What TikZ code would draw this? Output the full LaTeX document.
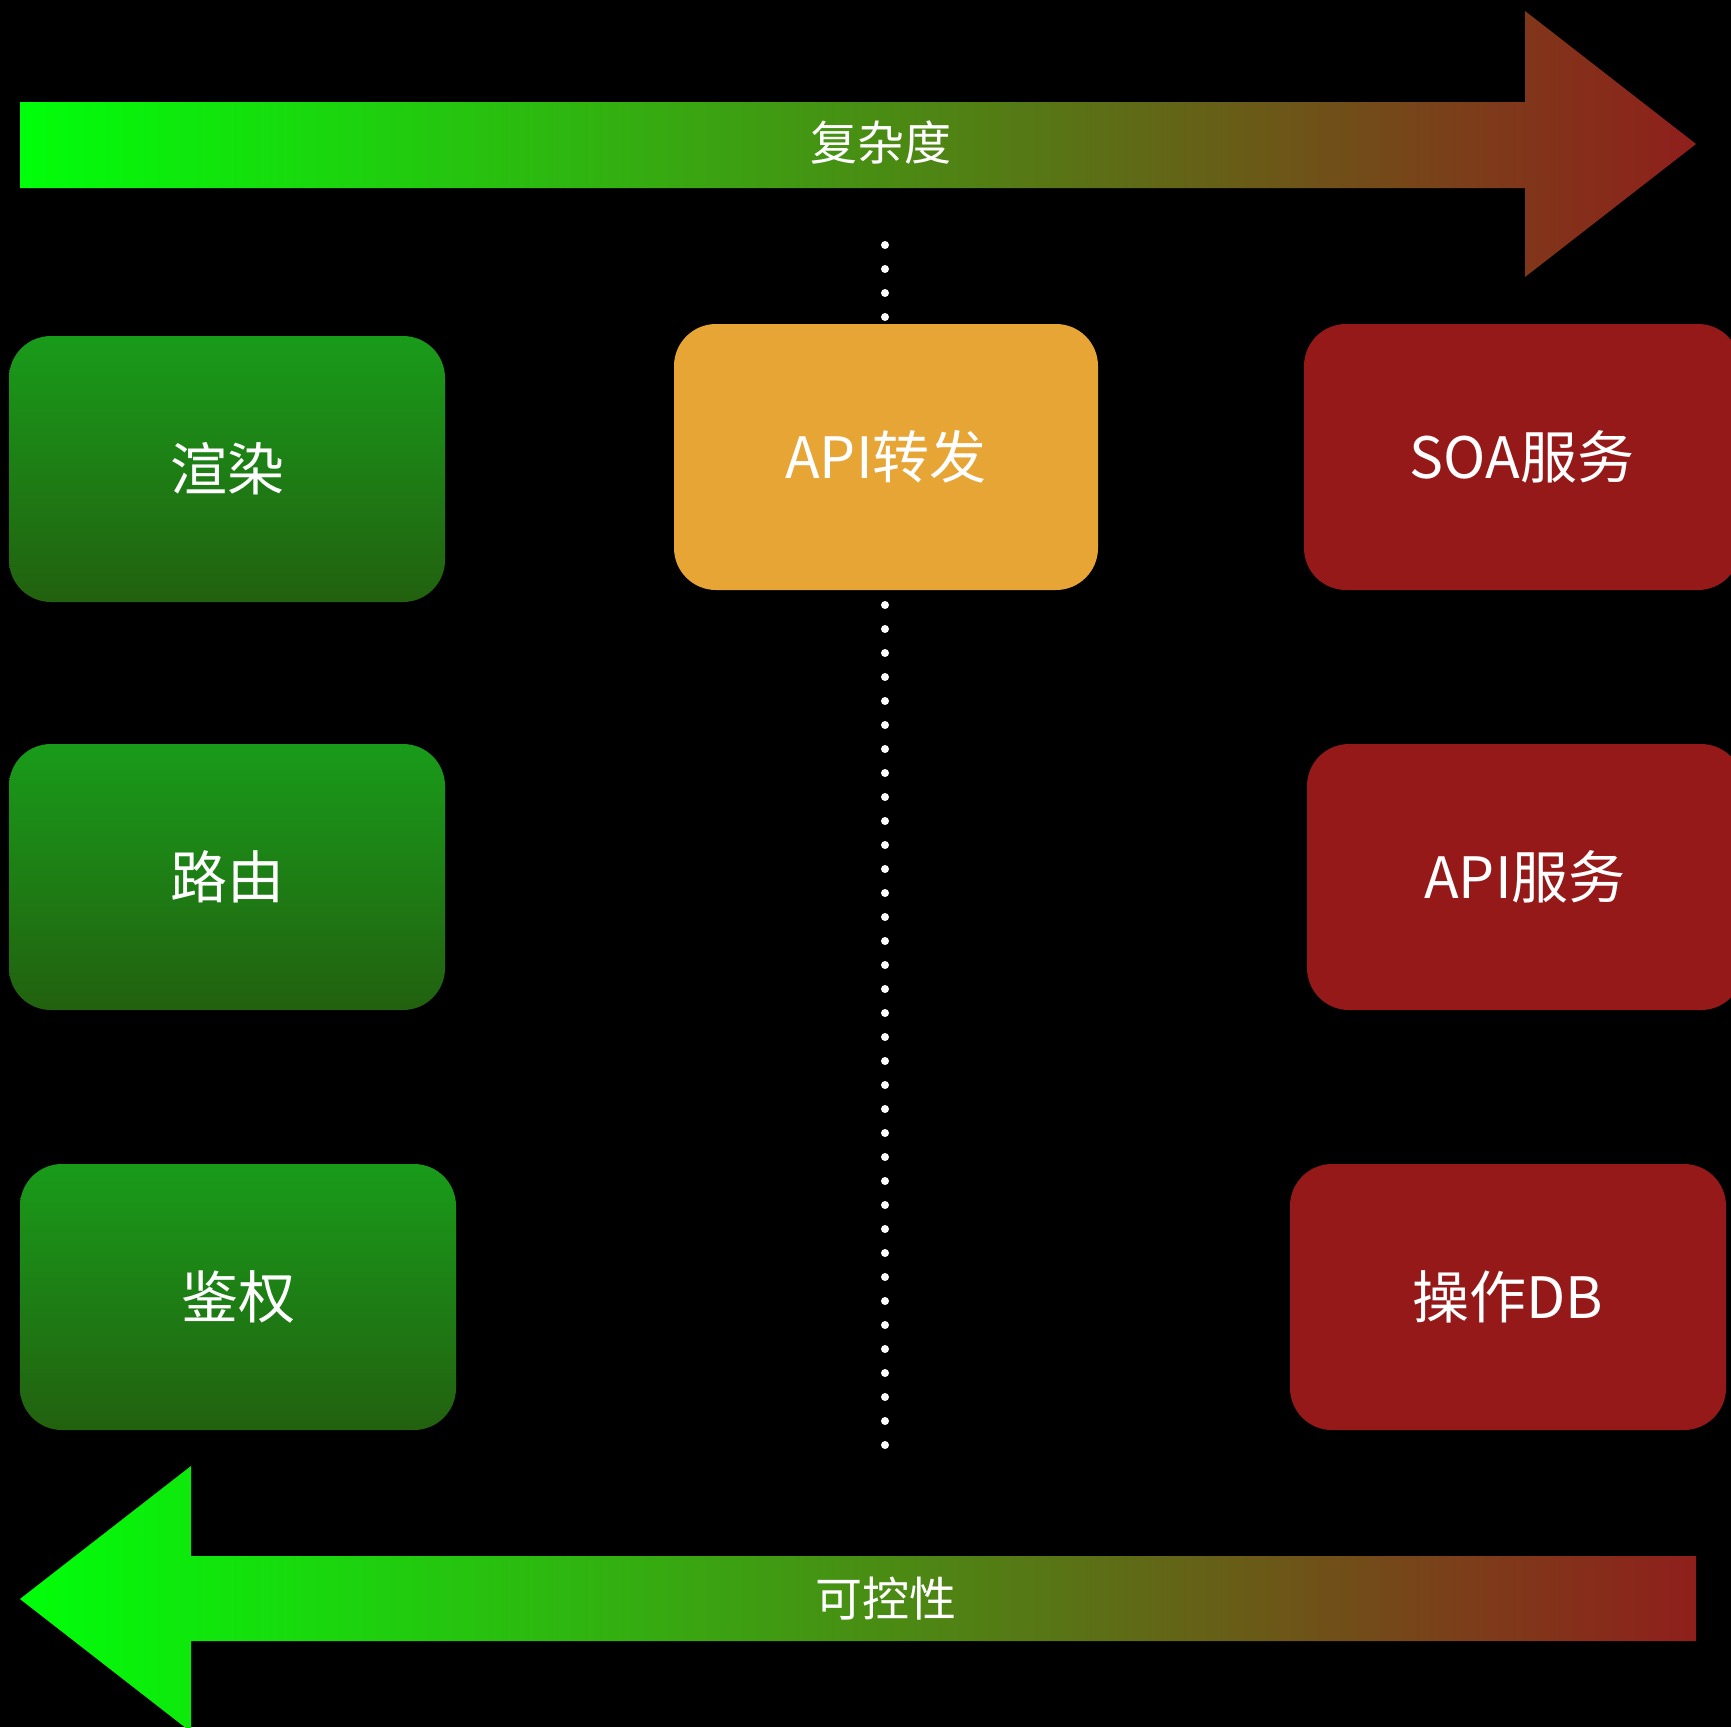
\documentclass[tikz,border=0pt]{standalone}
\usepackage{fontspec}
\setmainfont{Noto Sans CJK SC}
\usetikzlibrary{positioning}

\definecolor{arrgreen}{RGB}{0,255,10}
\definecolor{arrred}{RGB}{143,31,28}
\definecolor{gtop}{RGB}{25,155,26}
\definecolor{gbot}{RGB}{34,97,15}
\definecolor{fwdorange}{RGB}{230,165,53}
\definecolor{svcred}{RGB}{150,25,25}

\begin{document}
\begin{tikzpicture}[x=1pt,y=-1pt,
  box/.style={rounded corners=42pt, minimum width=436pt, minimum height=266pt,
              inner sep=0pt, text=white, font=\fontsize{57}{60}\selectfont},
  gbox/.style={box, top color=gtop, bottom color=gbot},
  obox/.style={box, fill=fwdorange, minimum width=424pt},
  rbox/.style={box, fill=svcred},
  arrtext/.style={text=white, font=\fontsize{47}{50}\selectfont}]

\clip (0,0) rectangle (1731,1727);
\fill[black] (0,0) rectangle (1731,1727);

% the two gradient arrows
\path[left color=arrgreen, right color=arrred]
  (20,102) -- (1525,102) -- (1525,11) -- (1696,144) -- (1525,277) -- (1525,188) -- (20,188) -- cycle;
\node[arrtext] (cplx) at (881,143) {复杂度};

\path[left color=arrgreen, right color=arrred]
  (1696,1556) -- (191,1556) -- (191,1466) -- (20,1599) -- (191,1732) -- (191,1641) -- (1696,1641) -- cycle;
\node[arrtext] (ctrl) at (886,1599) {可控性};

% dotted divider
\coordinate (dtop) at (885,245);
\coordinate (dbot) at (885,1446);
\draw[white, line width=8pt, line cap=round, dash pattern=on 0pt off 24pt] (dtop) -- (dbot);

% left column
\node[gbox] (render) at (227,469) {渲染};
\node[gbox] (route) at (227,877) {路由};
\node[gbox] (auth) at (238,1297) {鉴权};

% middle
\node[obox] (fwd) at (886,457) {API转发};

% right column
\node[rbox] (soa) at (1522,457) {SOA服务};
\node[rbox] (apisvc) at (1525,877) {API服务};
\node[rbox] (db) at (1508,1297) {操作DB};
\end{tikzpicture}
\end{document}
